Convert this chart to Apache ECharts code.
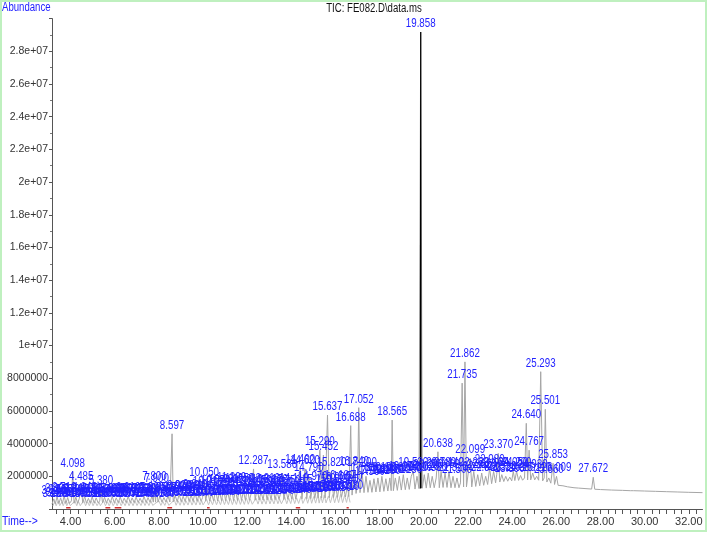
<!DOCTYPE html>
<html>
<head>
<meta charset="utf-8">
<script src="https://cdn.jsdelivr.net/npm/echarts@6/dist/echarts.min.js"></script>
<style>
html,body{margin:0;padding:0;background:#fff;}
#c{width:709px;height:533px;}
</style>
</head>
<body>
<div id="c"></div>
<script>
// Retention time (min) and abundance (millions) of the TIC trace
var traceTime = [3.16,3.24,3.31,3.39,3.47,3.55,3.63,3.71,3.79,3.87,3.95,4.04,4.098,4.16,4.24,4.32,4.40,4.485,4.55,4.64,4.72,4.81,4.89,4.98,5.07,5.16,5.25,5.32,5.38,5.45,5.54,5.62,5.71,5.80,5.89,5.98,6.07,6.16,6.25,6.34,6.43,6.52,6.61,6.70,6.79,6.88,6.97,7.06,7.15,7.24,7.33,7.42,7.51,7.60,7.69,7.75,7.80,7.85,7.90,7.96,8.05,8.14,8.23,8.32,8.41,8.50,8.55,8.597,8.65,8.74,8.83,8.92,9.01,9.10,9.19,9.28,9.37,9.46,9.55,9.64,9.73,9.82,9.91,9.98,10.05,10.12,10.21,10.30,10.39,10.48,10.57,10.66,10.75,10.84,10.93,11.02,11.11,11.20,11.29,11.38,11.47,11.56,11.65,11.74,11.83,11.92,12.01,12.10,12.19,12.287,12.36,12.45,12.54,12.63,12.72,12.81,12.90,12.99,13.08,13.17,13.26,13.35,13.44,13.50,13.586,13.66,13.75,13.84,13.93,14.02,14.11,14.20,14.28,14.40,14.48,14.54,14.62,14.70,14.79,14.88,14.97,15.06,15.15,15.22,15.29,15.37,15.452,15.53,15.637,15.72,15.82,15.91,16.00,16.09,16.18,16.27,16.36,16.45,16.54,16.60,16.647,16.688,16.75,16.84,16.93,17.00,17.052,17.11,17.20,17.29,17.38,17.47,17.56,17.65,17.74,17.83,17.92,18.01,18.10,18.19,18.28,18.37,18.46,18.52,18.565,18.62,18.71,18.80,18.89,18.98,19.07,19.16,19.25,19.34,19.43,19.52,19.60,19.69,19.78,19.858,19.93,20.02,20.11,20.20,20.29,20.38,20.47,20.56,20.638,20.70,20.78,20.87,20.96,21.05,21.14,21.23,21.32,21.41,21.50,21.59,21.66,21.735,21.80,21.862,21.93,22.01,22.099,22.17,22.26,22.35,22.44,22.53,22.62,22.71,22.80,22.89,22.98,23.07,23.16,23.25,23.30,23.37,23.44,23.53,23.62,23.71,23.80,23.89,23.98,24.05,24.12,24.20,24.29,24.38,24.47,24.56,24.64,24.70,24.767,24.84,24.93,25.02,25.11,25.20,25.293,25.38,25.45,25.501,25.57,25.66,25.75,25.853,25.92,26.009,26.08,26.30,26.50,26.80,27.00,27.30,27.60,27.672,27.74,28.00,28.50,29.00,29.35,29.42,29.50,30.00,30.50,31.00,31.50,32.00,32.62];
var traceAbund = [0.30,0.62,0.32,0.75,0.33,0.68,0.33,0.80,0.34,0.70,0.34,0.50,2.28,0.35,0.72,0.35,0.66,1.50,0.36,0.78,0.36,0.65,0.36,0.74,0.37,0.68,0.37,0.50,1.20,0.37,0.72,0.37,0.66,0.38,0.76,0.38,0.68,0.38,0.74,0.38,0.66,0.39,0.78,0.39,0.68,0.39,0.72,0.40,0.66,0.40,0.76,0.40,0.70,0.41,0.80,0.42,1.45,0.42,1.35,0.42,0.78,0.42,0.70,0.43,0.80,0.43,0.55,4.60,0.44,0.82,0.44,0.90,0.45,0.78,0.45,0.95,0.46,0.85,0.46,1.00,0.47,0.88,0.47,0.70,1.70,0.48,1.15,0.48,0.95,0.49,1.20,0.49,1.05,0.50,1.30,0.50,1.10,0.51,1.40,0.51,1.15,0.52,1.35,0.52,1.10,0.53,1.30,0.53,1.00,2.45,0.54,1.25,0.55,1.05,0.55,1.35,0.56,1.15,0.56,1.30,0.57,1.10,0.58,0.90,2.20,0.58,1.25,0.59,1.10,0.60,1.35,0.60,1.10,2.50,0.62,1.40,2.45,0.63,2.00,0.64,1.50,0.65,1.30,0.66,3.60,0.67,3.30,0.68,5.75,0.69,2.30,0.70,1.40,0.71,1.55,0.72,1.30,0.74,1.45,0.76,3.00,5.10,0.85,2.40,0.95,1.50,6.20,1.00,2.30,1.00,2.00,1.02,1.75,1.02,1.85,1.04,1.90,1.05,2.00,1.08,1.85,1.10,1.90,1.12,5.44,1.12,1.90,1.14,2.00,1.16,2.10,1.18,1.90,1.20,2.00,2.30,1.22,2.00,1.25,29.18,1.27,2.10,1.28,2.20,1.30,2.00,1.30,1.90,3.50,1.30,2.30,1.32,2.20,1.32,2.30,1.30,2.00,1.30,1.90,1.30,1.60,7.70,1.35,9.00,1.35,2.20,3.10,1.35,2.30,1.38,2.10,1.42,2.20,1.45,2.00,1.50,2.50,1.55,2.30,1.60,2.10,3.40,1.65,2.10,1.68,2.00,1.70,1.95,1.72,2.30,1.74,2.30,1.75,2.05,1.76,1.90,5.24,1.78,3.60,1.78,2.20,1.78,2.00,1.76,8.40,1.72,1.90,6.10,1.65,1.90,1.58,2.80,1.50,2.00,1.45,1.42,1.36,1.30,1.28,1.25,1.22,1.94,1.21,1.19,1.16,1.14,1.12,1.20,1.12,1.10,1.08,1.06,1.04,1.02,1.00];
// Second (lower) overlaid trace in the crowded early region, abundance in millions
var lowTime = [3.20,3.28,3.35,3.44,3.51,3.60,3.67,3.75,3.83,3.91,3.99,4.20,4.28,4.36,4.44,4.60,4.68,4.77,4.85,4.94,5.02,5.11,5.20,5.29,5.35,5.50,5.58,5.67,5.75,5.85,5.93,6.03,6.11,6.20,6.29,6.38,6.47,6.56,6.65,6.74,6.83,6.92,7.01,7.10,7.19,7.28,7.37,7.46,7.55,7.64,7.72,8.00,8.09,8.18,8.27,8.36,8.45,8.70,8.78,8.87,8.96,9.05,9.14,9.23,9.32,9.41,9.50,9.59,9.68,9.77,9.86,9.94,10.00,10.16,10.25,10.34,10.43,10.52,10.61,10.70,10.79,10.88,10.97,11.06,11.15,11.24,11.33,11.42,11.51,11.60,11.69,11.78,11.87,11.96,12.05,12.14,12.23,12.40,12.49,12.58,12.67,12.76,12.85,12.94,13.03,13.12,13.21,13.30,13.39,13.47,13.55,13.70,13.79,13.88,13.97,14.06,14.15,14.24,14.33,14.44,14.52,14.66,14.74,14.84,14.92,15.01,15.10,15.19,15.26,15.33,15.41,15.49,15.57,15.68,15.77,15.87,15.96,16.05,16.14,16.23,16.32,16.41,16.50,16.58,16.66];
var lowAbund = [0.18,0.45,0.20,0.50,0.20,0.42,0.20,0.48,0.20,0.44,0.20,0.50,0.20,0.46,0.20,0.52,0.20,0.44,0.20,0.50,0.20,0.46,0.20,0.42,0.20,0.50,0.20,0.44,0.20,0.48,0.20,0.45,0.20,0.50,0.20,0.44,0.20,0.50,0.20,0.46,0.20,0.50,0.21,0.44,0.21,0.50,0.21,0.46,0.21,0.50,0.22,0.50,0.22,0.46,0.22,0.52,0.22,0.55,0.23,0.50,0.23,0.56,0.23,0.50,0.24,0.58,0.24,0.52,0.24,0.60,0.25,0.50,0.25,0.60,0.25,0.56,0.26,0.62,0.26,0.56,0.26,0.64,0.27,0.58,0.27,0.66,0.27,0.60,0.28,0.66,0.28,0.60,0.28,0.68,0.29,0.62,0.29,0.66,0.30,0.70,0.30,0.62,0.30,0.72,0.31,0.64,0.31,0.72,0.32,0.60,0.32,0.74,0.32,0.66,0.33,0.76,0.33,0.68,0.34,0.80,0.34,0.74,0.35,0.82,0.35,0.76,0.36,0.84,0.36,0.78,0.37,0.86,0.37,0.80,0.38,0.88,0.38,0.82,0.39,0.90,0.39,0.84,0.40,0.90,0.40];
// Highlighted main peak (black)
var mainPeakTime = [19.845,19.858,19.871];
var mainPeakAbund = [1.25,29.18,1.27];
// Red integration baseline marks (null = gap)
var redTime = [3.80,4.00,4.01,5.58,5.80,5.81,6.00,6.30,6.31,8.38,8.60,8.61,10.18,10.30,10.31,14.20,14.40,14.41,16.50,16.60];
var redAbund = [0.08,0.08,null,0.08,0.08,null,0.08,0.08,null,0.08,0.08,null,0.08,0.08,null,0.08,0.08,null,0.08,0.08];
// Axis labels
var xLabelValues = [4,6,8,10,12,14,16,18,20,22,24,26,28,30,32];
var labelLastTime = 26.01;   // peaks labelled up to here
var extraLabelTimes = [27.672];

var M = 1e6;
var FONT = "'Liberation Sans',Arial,sans-serif";
var NARROW = 0.75;  // narrow face imitation
var BLUE = '#2222ff';

function pairs(ts, vs){ return ts.map(function(t,i){ return vs[i]==null ? [t,null] : [t, vs[i]*M]; }); }
var traceData = pairs(traceTime, traceAbund);
var lowData = pairs(lowTime, lowAbund);
var mainData = pairs(mainPeakTime, mainPeakAbund);
var redData = pairs(redTime, redAbund);

// labels at each local maximum of the traces
var labelPts = [], labelNames = [];
function collect(ts, vs){
  for (var i=1;i<ts.length-1;i++){
    var t = ts[i];
    if (vs[i] > vs[i-1] && vs[i] > vs[i+1] && (t <= labelLastTime || extraLabelTimes.indexOf(t) >= 0)) {
      labelPts.push([t, vs[i]*M]);
      labelNames.push(t.toFixed(3));
    }
  }
}
collect(lowTime, lowAbund);
collect(traceTime, traceAbund);

var xTicks = [];
for (var k=10; k<=97; k++){ var v = k/3; if (v>=3.16 && v<=32.62) xTicks.push(v); }

var chart = echarts.init(document.getElementById('c'));
chart.setOption({
  animation:false,
  backgroundColor:'#fff',
  grid:{left:52, right:6.5, top:18.6, bottom:24},
  xAxis:{
    type:'value', min:3.16, max:32.62,
    axisLine:{show:true, onZero:false, lineStyle:{color:'#555', width:1}},
    axisTick:{show:true, length:5, customValues:xTicks, lineStyle:{color:'#555'}},
    axisLabel:{customValues:xLabelValues, margin:7, color:'#333', fontSize:11, fontFamily:FONT,
      formatter:function(v){return v.toFixed(2);}},
    splitLine:{show:false}
  },
  yAxis:{
    type:'value', min:0, max:30*M, interval:2*M,
    axisLine:{show:true, lineStyle:{color:'#555', width:1}},
    axisTick:{show:true, length:3, lineStyle:{color:'#555'}},
    minorTick:{show:true, splitNumber:2, length:2, lineStyle:{color:'#777'}},
    axisLabel:{showMinLabel:false, showMaxLabel:false, margin:4, color:'#333', fontSize:10.5, fontFamily:FONT,
      formatter:function(v){ if (v>=1e7) return parseFloat((v/1e7).toFixed(2))+'e+07'; return String(v);} },
    splitLine:{show:false}
  },
  series:[
    {type:'line', data:lowData, symbol:'none', lineStyle:{color:'#c4c4c4', width:1}, z:1},
    {type:'line', data:traceData, symbol:'none', lineStyle:{color:'#a6a6a6', width:1}, z:2},
    {type:'line', data:redData, symbol:'none', connectNulls:false, lineStyle:{color:'#d03030', width:1.5}, z:3},
    {type:'line', data:mainData, symbol:'none', lineStyle:{color:'#000', width:1.2}, z:4},
    {type:'custom', data:labelPts, z:5, silent:true, clip:false,
      renderItem:function(params, api){
        var p = api.coord([api.value(0), api.value(1)]);
        return {type:'text', x:p[0], y:p[1]-2, scaleX:NARROW,
          style:{text:labelNames[params.dataIndex], fill:BLUE, font:'13px '+FONT, align:'center', verticalAlign:'bottom'}};
      }}
  ],
  graphic:[
    {type:'rect', shape:{x:1, y:1, width:705, height:530}, style:{fill:'none', stroke:'#bff0bf', lineWidth:2}, silent:true},
    {type:'text', x:2, y:8, scaleX:0.8, style:{text:'Abundance', fill:BLUE, font:'12px '+FONT, verticalAlign:'middle'}},
    {type:'text', x:2, y:521, scaleX:0.8, style:{text:'Time-->', fill:BLUE, font:'13px '+FONT, verticalAlign:'middle'}},
    {type:'text', x:374, y:8.5, scaleX:0.8, style:{text:'TIC: FE082.D\\data.ms', fill:'#111', font:'12px '+FONT, align:'center', verticalAlign:'middle'}}
  ]
});
</script>
</body>
</html>
